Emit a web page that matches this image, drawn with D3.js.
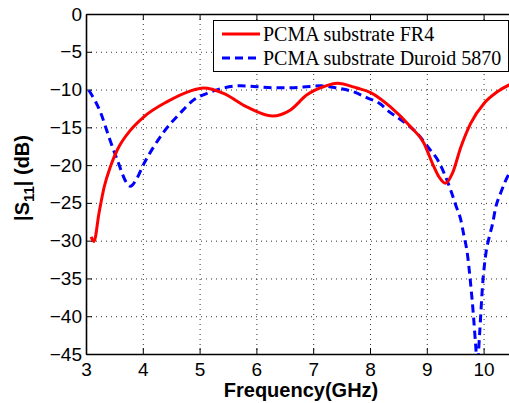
<!DOCTYPE html>
<html>
<head>
<meta charset="utf-8">
<script src="https://cdn.jsdelivr.net/npm/d3@7"></script>
<style>
  body { margin: 0; background: #fff; }
  svg { display: block; }
  .tick text { font-family: "Liberation Sans", Arial, sans-serif; font-size: 19px; fill: #000; }
</style>
</head>
<body>
<svg id="chart"></svg>
<script>
// FR4 substrate
const freqFR4 = [3.09, 3.14, 3.23, 3.32, 3.43, 3.55, 3.78, 4.02, 4.43, 4.83, 5.07, 5.42, 5.83, 6.28, 6.60, 6.89, 7.19, 7.42, 7.77, 8.01, 8.36, 8.71, 8.95, 9.10, 9.21, 9.33, 9.45, 9.60, 9.77, 10.01, 10.24, 10.5];
const s11FR4 = [-29.5, -30.1, -26.3, -22.9, -20.2, -18.0, -15.4, -13.6, -11.6, -10.2, -9.8, -10.5, -12.3, -13.5, -12.7, -10.7, -9.6, -9.17, -9.8, -10.4, -12.3, -14.9, -17.1, -19.8, -21.5, -22.4, -21.1, -17.6, -14.5, -11.8, -10.3, -9.2];

// Duroid 5870 substrate
const freqDuroid = [3.05, 3.26, 3.40, 3.55, 3.72, 3.78, 3.90, 4.02, 4.19, 4.37, 4.66, 4.89, 5.13, 5.42, 5.72, 6.30, 6.60, 6.83, 7.13, 7.42, 7.71, 7.95, 8.19, 8.30, 8.60, 8.83, 9.04, 9.19, 9.42, 9.51, 9.60, 9.65, 9.71, 9.77, 9.82, 9.86, 9.89, 9.93, 9.98, 10.04, 10.10, 10.16, 10.21, 10.30, 10.45, 10.5];
const s11Duroid = [-10.1, -13.1, -16.2, -19.3, -22.4, -22.8, -21.7, -19.8, -17.6, -15.6, -13.1, -11.4, -10.5, -9.8, -9.5, -9.75, -9.75, -9.66, -9.5, -9.8, -10.3, -11.1, -11.95, -12.7, -14.3, -15.8, -17.8, -19.3, -23.3, -25.3, -27.3, -29.2, -31.5, -35.6, -39.8, -43.8, -46.5, -42.3, -36.1, -31.7, -29.5, -27.7, -25.7, -23.7, -21.1, -20.5];

const xTicks = [3, 4, 5, 6, 7, 8, 9, 10];
const yTicks = [0, -5, -10, -15, -20, -25, -30, -35, -40, -45];
const seriesNames = ["PCMA substrate FR4", "PCMA substrate Duroid 5870"];

const W = 509, H = 403;
const plotLeft = 86, plotTop = 14, plotBottom = 354;

const svg = d3.select("#chart").attr("width", W).attr("height", H);

const x = d3.scaleLinear().domain([3, 10.5]).range([plotLeft, plotLeft + 7.5 * 56.8]);
const y = d3.scaleLinear().domain([-45, 0]).range([plotBottom, plotTop]);
const plotRight = x(10.5);

svg.append("defs").append("clipPath").attr("id", "clip")
   .append("rect")
   .attr("x", plotLeft).attr("y", plotTop)
   .attr("width", plotRight - plotLeft).attr("height", plotBottom - plotTop);

// dotted grid
const grid = svg.append("g")
  .attr("stroke", "#333")
  .attr("stroke-width", 1)
  .attr("stroke-dasharray", "1,4");
grid.selectAll(".gx").data(xTicks.slice(1)).enter().append("line")
  .attr("x1", d => x(d) + 0.5).attr("x2", d => x(d) + 0.5)
  .attr("y1", plotTop).attr("y2", plotBottom);
grid.selectAll(".gy").data(yTicks.slice(1, -1)).enter().append("line")
  .attr("y1", d => y(d) + 0.5).attr("y2", d => y(d) + 0.5)
  .attr("x1", plotLeft).attr("x2", plotRight);

// axes, ticks pointing inward
svg.append("g")
   .attr("transform", `translate(0,${plotBottom})`)
   .call(d3.axisBottom(x).tickValues(xTicks).tickSize(-6).tickSizeOuter(0).tickPadding(9))
   .call(g => g.select(".domain").attr("stroke-width", 1.6));

svg.append("g")
   .attr("transform", `translate(0,${plotTop})`)
   .call(d3.axisTop(x).tickValues(xTicks).tickSize(-6).tickSizeOuter(0).tickFormat(""))
   .call(g => g.select(".domain").attr("stroke-width", 1.3));

svg.append("g")
   .attr("transform", `translate(${plotLeft},0)`)
   .call(d3.axisLeft(y).tickValues(yTicks).tickSize(-6).tickSizeOuter(0).tickPadding(4))
   .call(g => g.select(".domain").attr("stroke-width", 1.6));

// curves
const line = d3.line()
  .x(d => x(d[0]))
  .y(d => y(d[1]))
  .curve(d3.curveMonotoneX);

const plot = svg.append("g").attr("clip-path", "url(#clip)");

plot.append("path")
    .datum(d3.zip(freqDuroid, s11Duroid))
    .attr("fill", "none")
    .attr("stroke", "#0000ff")
    .attr("stroke-width", 3)
    .attr("stroke-dasharray", "8,5")
    .attr("d", line);

plot.append("path")
    .datum(d3.zip(freqFR4, s11FR4))
    .attr("fill", "none")
    .attr("stroke", "#ff0000")
    .attr("stroke-width", 3)
    .attr("d", line);

// axis labels
svg.append("text")
   .attr("x", 301).attr("y", 397)
   .attr("text-anchor", "middle")
   .attr("font-family", "Liberation Sans, Arial, sans-serif")
   .attr("font-weight", "bold")
   .attr("font-size", 20)
   .text("Frequency(GHz)");

const ylab = svg.append("text")
   .attr("transform", "translate(29,178) rotate(-90)")
   .attr("text-anchor", "middle")
   .attr("font-family", "Liberation Sans, Arial, sans-serif")
   .attr("font-weight", "bold")
   .attr("font-size", 20);
ylab.append("tspan").text("|S");
ylab.append("tspan").attr("font-size", 15).attr("dy", 5).text("11");
ylab.append("tspan").attr("dy", -5).text("| (dB)");

// legend
const legend = svg.append("g");
legend.append("rect")
  .attr("x", 213.5).attr("y", 20.5)
  .attr("width", 295).attr("height", 51)
  .attr("fill", "#fff").attr("stroke", "#000").attr("stroke-width", 1);

const legendStyles = [
  { color: "#ff0000", dash: null },
  { color: "#0000ff", dash: "8,5" }
];
const items = legend.selectAll(".item").data(seriesNames).enter().append("g")
  .attr("transform", (d, i) => `translate(0,${i * 24})`);
items.append("line")
  .attr("x1", 222).attr("x2", 260)
  .attr("y1", 34).attr("y2", 34)
  .attr("stroke", (d, i) => legendStyles[i].color)
  .attr("stroke-width", 3)
  .attr("stroke-dasharray", (d, i) => legendStyles[i].dash);
items.append("text")
  .attr("x", 263).attr("y", 41)
  .attr("font-family", "Liberation Serif, Times New Roman, serif")
  .attr("font-size", 20)
  .text(d => d);
</script>
</body>
</html>
